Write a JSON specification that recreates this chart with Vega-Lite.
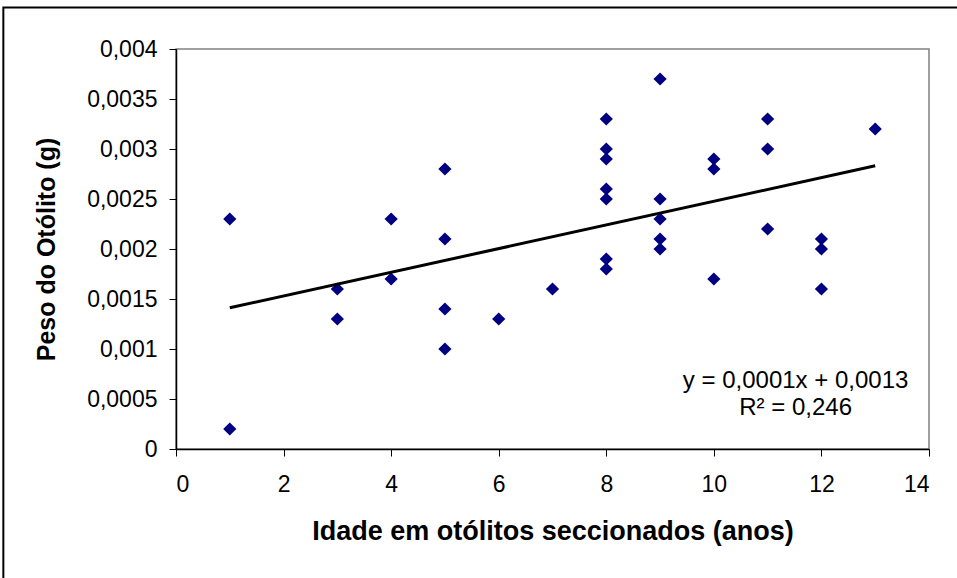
{
  "$schema": "https://vega.github.io/schema/vega-lite/v6.json",
  "width": 753,
  "height": 400,
  "autosize": {"type": "none"},
  "padding": {"left": 176, "top": 49, "right": 28, "bottom": 129},
  "background": "white",
  "config": {
    "font": "Liberation Sans",
    "view": {"stroke": "#808080", "strokeWidth": 1.5},
    "locale": {"number": {"decimal": ",", "thousands": ".", "grouping": [3], "currency": ["", ""]}},
    "axis": {"grid": false, "domainColor": "#000000", "tickColor": "#000000", "labelColor": "#000000", "titleColor": "#000000", "labelFont": "Liberation Sans", "titleFont": "Liberation Sans", "labelFontSize": 23, "titleFontSize": 25, "titleFontWeight": "bold", "tickSize": 7, "domainWidth": 1.5}
  },
  "datasets": {
    "pontos": [
      {"idade": 1, "peso": 0.0023}, {"idade": 1, "peso": 0.0002},
      {"idade": 3, "peso": 0.0016}, {"idade": 3, "peso": 0.0013},
      {"idade": 4, "peso": 0.0023}, {"idade": 4, "peso": 0.0017},
      {"idade": 5, "peso": 0.0028}, {"idade": 5, "peso": 0.0021}, {"idade": 5, "peso": 0.0014}, {"idade": 5, "peso": 0.001},
      {"idade": 6, "peso": 0.0013},
      {"idade": 7, "peso": 0.0016},
      {"idade": 8, "peso": 0.0033}, {"idade": 8, "peso": 0.003}, {"idade": 8, "peso": 0.0029}, {"idade": 8, "peso": 0.0026}, {"idade": 8, "peso": 0.0025}, {"idade": 8, "peso": 0.0019}, {"idade": 8, "peso": 0.0018},
      {"idade": 9, "peso": 0.0037}, {"idade": 9, "peso": 0.0025}, {"idade": 9, "peso": 0.0023}, {"idade": 9, "peso": 0.0021}, {"idade": 9, "peso": 0.002},
      {"idade": 10, "peso": 0.0029}, {"idade": 10, "peso": 0.0028}, {"idade": 10, "peso": 0.0017},
      {"idade": 11, "peso": 0.0033}, {"idade": 11, "peso": 0.003}, {"idade": 11, "peso": 0.0022},
      {"idade": 12, "peso": 0.0021}, {"idade": 12, "peso": 0.002}, {"idade": 12, "peso": 0.0016},
      {"idade": 13, "peso": 0.0032}
    ],
    "um": [{"id": 1}]
  },
  "layer": [
    {
      "data": {"name": "um"},
      "mark": {"type": "rect", "fill": null, "stroke": "#000000", "strokeWidth": 2, "clip": false},
      "encoding": {
        "x": {"datum": -3.21, "type": "quantitative", "scale": {"domain": [0, 14]}},
        "x2": {"datum": 14.6},
        "y": {"datum": 0.004415, "type": "quantitative"},
        "y2": {"datum": -0.00135}
      }
    },
    {
      "data": {"name": "pontos"},
      "mark": {"type": "point", "shape": "diamond", "filled": true, "color": "#000080", "opacity": 1, "size": 175},
      "encoding": {
        "x": {"field": "idade", "type": "quantitative", "title": "Idade em otólitos seccionados (anos)",
              "scale": {"domain": [0, 14], "nice": false, "zero": true},
              "axis": {"values": [0, 2, 4, 6, 8, 10, 12, 14], "labelPadding": 17, "titlePadding": 22, "titleFontSize": 27}},
        "y": {"field": "peso", "type": "quantitative", "title": "Peso do Otólito (g)",
              "scale": {"domain": [0, 0.004], "nice": false},
              "axis": {"values": [0, 0.0005, 0.001, 0.0015, 0.002, 0.0025, 0.003, 0.0035, 0.004], "format": "~g", "labelPadding": 12, "titlePadding": 27}}
      }
    },
    {
      "data": {"name": "pontos"},
      "transform": [{"regression": "peso", "on": "idade", "method": "linear", "extent": [1, 13]}],
      "mark": {"type": "line", "color": "#000000", "strokeWidth": 3},
      "encoding": {
        "x": {"field": "idade", "type": "quantitative"},
        "y": {"field": "peso", "type": "quantitative"}
      }
    },
    {
      "data": {"name": "um"},
      "mark": {"type": "text", "align": "center", "baseline": "middle", "fontSize": 24, "color": "#000000", "font": "Liberation Sans"},
      "encoding": {
        "x": {"datum": 11.52, "type": "quantitative"},
        "y": {"datum": 0.00068, "type": "quantitative"},
        "text": {"value": "y = 0,0001x + 0,0013"}
      }
    },
    {
      "data": {"name": "um"},
      "mark": {"type": "text", "align": "center", "baseline": "middle", "fontSize": 24, "color": "#000000", "font": "Liberation Sans"},
      "encoding": {
        "x": {"datum": 11.52, "type": "quantitative"},
        "y": {"datum": 0.00041, "type": "quantitative"},
        "text": {"value": "R² = 0,246"}
      }
    }
  ]
}
